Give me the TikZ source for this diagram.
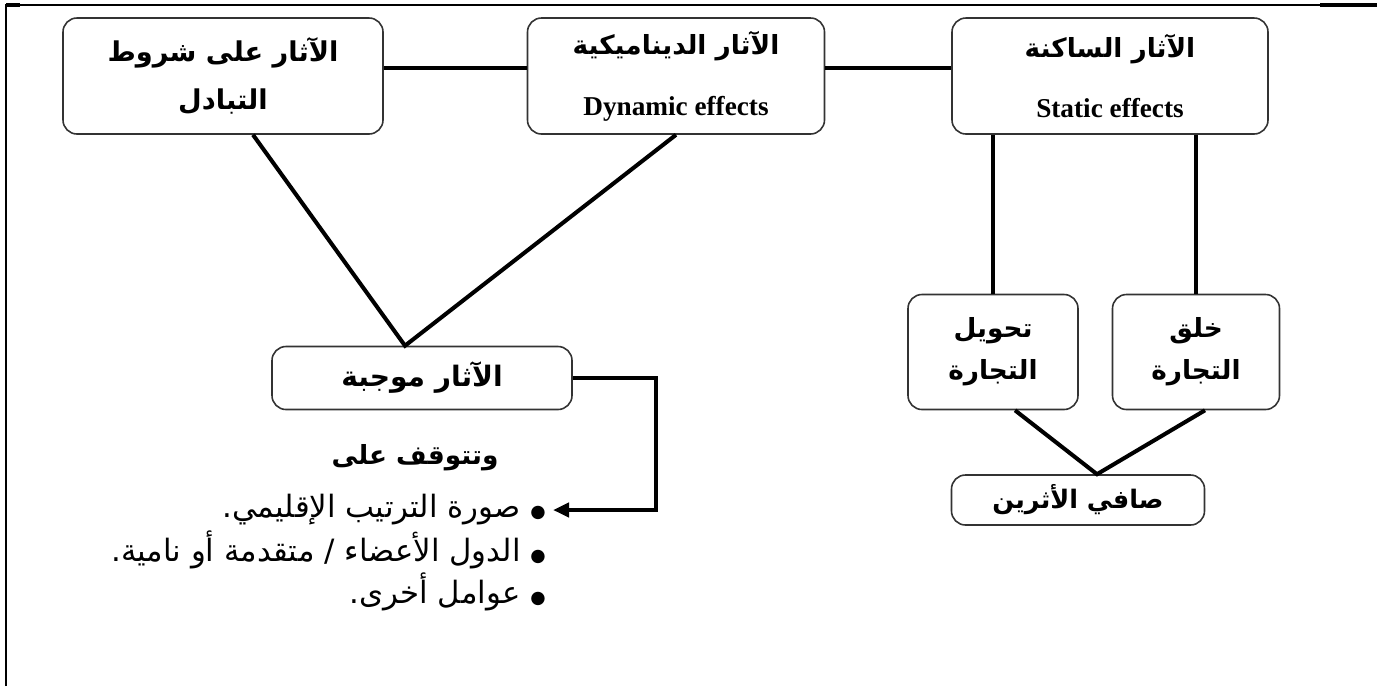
\documentclass[tikz,border=0pt]{standalone}
\usepackage{fontspec}
\setmainfont{Liberation Serif}
\newfontfamily\arabicfont[Script=Arabic]{DejaVu Sans}
\TeXXeTstate=1
\usepackage{tikz}
\usetikzlibrary{shapes,arrows,positioning,calc,arrows.meta}

\newcommand{\artitle}[2][15]{{\arabicfont\bfseries\fontsize{#1}{#1}\selectfont\beginR #2\endR}}
\newcommand{\aritem}[1]{{\arabicfont\fontsize{17.5}{20}\selectfont\beginR{\fontsize{10}{10}\selectfont ●}\ #1\endR}}
\newcommand{\entitle}[1]{{\bfseries\fontsize{15.5}{18}\selectfont #1}}

\tikzset{
    box/.style={draw=black!80, line width=0.9pt, rounded corners=2.8mm, align=center, inner sep=2pt},
    link/.style={line width=2.3pt},
    item/.style={anchor=east, inner sep=0pt}
}

\begin{document}
\begin{tikzpicture}[x=0.2mm, y=-0.2mm]
    \useasboundingbox (0,0) rectangle (1377,686);
    \draw[line width=1.1pt] (6,686) -- (6,5) -- (1377,5);
    \draw[line width=2pt] (6,5) -- (20,5) (1320,5) -- (1377,5);

    \node[box, minimum width=64mm, minimum height=23.2mm] (terms) at (223,76) {\artitle[15.5]{الآثار على شروط}\\[11pt] \artitle[15.5]{التبادل}};
    \node[box, minimum width=59.4mm, minimum height=23.2mm] (dyn) at (676,76) {\artitle{الآثار الديناميكية}\\[19pt] \entitle{Dynamic effects}};
    \node[box, minimum width=63.2mm, minimum height=23.2mm] (stat) at (1110,76) {\artitle{الآثار الساكنة}\\[19pt] \entitle{Static effects}};

    \node[box, minimum width=60mm, minimum height=12.6mm] (pos) at (422,378) {\artitle[16]{الآثار موجبة}};
    \node[box, minimum width=34mm, minimum height=23mm] (div) at (993,352) {\artitle{تحويل}\\[8pt] \artitle{التجارة}};
    \node[box, minimum width=33.4mm, minimum height=23mm] (crea) at (1196,352) {\artitle{خلق}\\[8pt] \artitle{التجارة}};
    \node[box, minimum width=50.6mm, minimum height=10mm] (net) at (1078,500) {\artitle[14.5]{صافي الأثرين}};

    \node (dep) at (415,458) {\artitle{وتتوقف على}};
    \node[item] (item1) at (546,510) {\aritem{صورة الترتيب الإقليمي.}};
    \node[item] (item2) at (546,550) {\aritem{الدول الأعضاء / متقدمة أو نامية.}};
    \node[item] (item3) at (546,592) {\aritem{عوامل أخرى.}};

    \draw[link] ([yshift=1.6mm]terms.east) -- ([yshift=1.6mm]dyn.west);
    \draw[link] ([yshift=1.6mm]dyn.east) -- ([yshift=1.6mm]stat.west);

    \coordinate (postop) at ($(pos.north)+(-17,0)$);
    \draw[link] ($(terms.south)+(30,0)$) -- (postop) -- (dyn.south);

    \draw[link] (stat.south -| div.north) -- (div.north);
    \draw[link] (stat.south -| crea.north) -- (crea.north);

    \coordinate (nettop) at ($(net.north)+(19,0)$);
    \draw[link] ($(div.south)+(22,0)$) -- (nettop) -- ($(crea.south)+(9,0)$);

    \draw[link, -{Triangle[length=3.2mm, width=2.8mm]}] (pos.east) -- ++(83,0) |- ([xshift=1.4mm]item1.east);
\end{tikzpicture}
\end{document}
